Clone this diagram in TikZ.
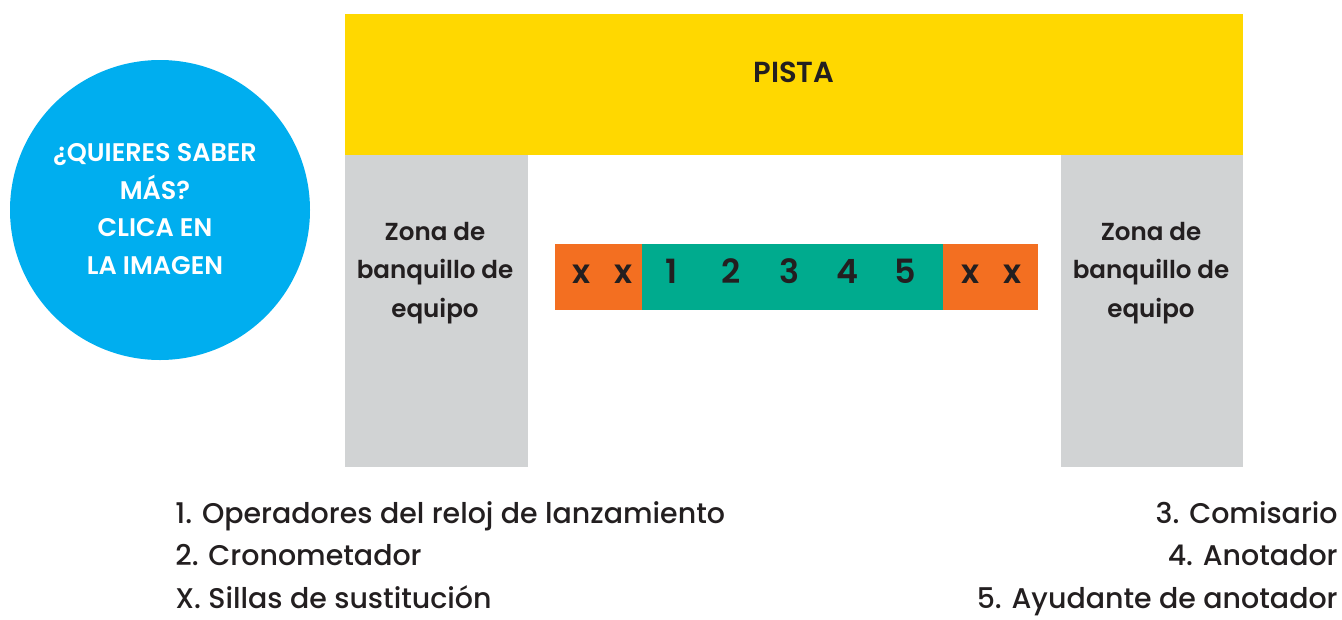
\documentclass[tikz,border=0pt]{standalone}
\usepackage{fontspec}
\setmainfont{Poppins}[UprightFont=* Medium, BoldFont=* SemiBold]
\definecolor{pistayellow}{HTML}{FFD800}
\definecolor{benchgray}{HTML}{D1D3D4}
\definecolor{chairorange}{HTML}{F36F21}
\definecolor{tablegreen}{HTML}{00AB8E}
\definecolor{infoblue}{HTML}{00AEEF}
\definecolor{ink}{HTML}{231F20}
\tikzset{
  zonatext/.style={align=center, font=\fontsize{14}{21.8}\selectfont\bfseries},
  seattext/.style={anchor=base, font=\fontsize{19}{20}\selectfont\bfseries},
  legtext/.style={font=\fontsize{16.2}{18}\selectfont}
}
\begin{document}
\begin{tikzpicture}[scale=0.1, every node/.style={text=ink}]
\tikzstyle{every node}+=[inner sep=0pt]
\useasboundingbox (0,0) rectangle (268.4,-123.8);
\fill [pistayellow] (69,-2.8) rectangle (248.6,-31);
\fill [benchgray] (69,-31) rectangle (105.6,-93.4);
\fill [benchgray] (212.2,-31) rectangle (248.6,-93.4);
\draw (158.8,-14.4) node [font=\fontsize{16.5}{20}\selectfont\bfseries] (pista) {PISTA};
\draw (87,-54.6) node [zonatext] (zonaA) {Zona de\\banquillo de\\equipo};
\draw (230.2,-54.6) node [zonatext] (zonaB) {Zona de\\banquillo de\\equipo};
\fill [chairorange] (111,-48.8) rectangle (128.4,-62);
\fill [tablegreen] (128.4,-48.8) rectangle (188.6,-62);
\fill [chairorange] (188.6,-48.8) rectangle (207.6,-62);
\foreach \x/\n in {116.4/xa, 124.8/xb, 194/xc, 202.4/xd}
  \draw (\x,-56.6) node [seattext] (\n) {x};
\foreach \x/\d in {134.4/1, 146.2/2, 157.8/3, 169.6/4, 181/5}
  \draw (\x,-56.6) node [seattext] (num\d) {\d};
\fill [infoblue] (32,-42) circle (30);
\draw (31,-41.8) node [align=center, text=white, font=\fontsize{14.5}{21.5}\selectfont\bfseries] (info) {¿QUIERES SABER\\MÁS?\\CLICA EN\\LA IMAGEN};
\draw (35,-104.6) node [legtext, anchor=base west] (leg1) {1. Operadores del reloj de lanzamiento};
\draw (35,-113.1) node [legtext, anchor=base west] (leg2) {2. Cronometador};
\draw (35,-121.6) node [legtext, anchor=base west] (legx) {X. Sillas de sustitución};
\draw (267.6,-104.6) node [legtext, anchor=base east] (leg3) {3. Comisario};
\draw (267.6,-113.1) node [legtext, anchor=base east] (leg4) {4. Anotador};
\draw (267.6,-121.6) node [legtext, anchor=base east] (leg5) {5. Ayudante de anotador};
\end{tikzpicture}
\end{document}
